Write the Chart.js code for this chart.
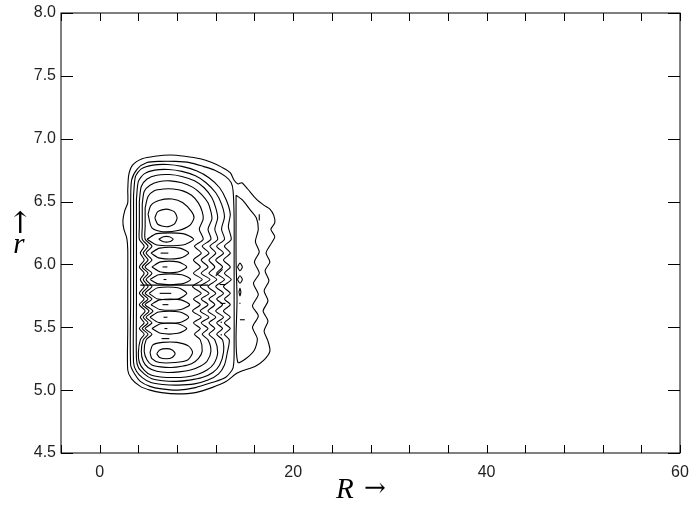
<!DOCTYPE html>
<html>
<head>
<meta charset="utf-8">
<script src="https://cdn.jsdelivr.net/npm/chart.js@4"></script>
<style>
  html, body { margin: 0; padding: 0; background: #fff; }
  #wrap { width: 693px; height: 508px; }
</style>
</head>
<body>
<div id="wrap"><canvas id="contourChart" width="693" height="508"></canvas></div>
<script>
// axis ticks
const xTickValues = [-4, 0, 4, 8, 12, 16, 20, 24, 28, 32, 36, 40, 44, 48, 52, 56, 60];
const xLabelValues = [0, 20, 40, 60];
const yTickValues = [4.5, 5.0, 5.5, 6.0, 6.5, 7.0, 7.5, 8.0];

// nested outer contours, [R, r]
const envelope1 = [[2.9,6.59],[3.0,6.71],[3.4,6.79],[4.4,6.84],[5.7,6.86],[7.3,6.87],[8.8,6.86],[10.4,6.84],[11.6,6.81],[12.7,6.77],[13.5,6.73],[13.9,6.67],[14.3,6.64],[14.7,6.65],[15.3,6.60],[16.2,6.52],[17.0,6.47],[17.6,6.44],[18.0,6.39],[18.1,6.33],[17.7,6.28],[18.1,6.22],[17.6,6.15],[17.2,6.09],[17.6,6.02],[17.1,5.95],[17.5,5.87],[17.0,5.79],[17.4,5.71],[16.9,5.63],[17.4,5.55],[17.0,5.47],[17.4,5.39],[17.6,5.31],[17.0,5.24],[16.1,5.19],[15.0,5.16],[14.1,5.13],[13.1,5.07],[11.6,5.02],[9.9,4.98],[8.1,4.97],[6.4,4.98],[5.2,5.0],[4.2,5.03],[3.3,5.09],[2.9,5.16],[2.9,5.48],[2.9,5.80],[2.9,6.12],[2.8,6.21],[2.5,6.28],[2.4,6.35],[2.6,6.43],[2.9,6.49]];
const envelope2 = [[3.2,6.51],[3.3,6.67],[3.9,6.76],[4.9,6.81],[6.2,6.82],[7.8,6.82],[9.3,6.81],[10.7,6.78],[11.9,6.75],[13.0,6.70],[13.6,6.65],[13.8,6.58],[13.9,6.36],[13.9,6.04],[13.9,5.72],[13.9,5.40],[13.8,5.18],[13.0,5.10],[11.6,5.06],[9.9,5.02],[8.1,5.00],[6.4,5.01],[5.2,5.03],[4.2,5.07],[3.6,5.13],[3.2,5.20],[3.2,5.72],[3.2,6.20]];
const envelope3 = [[3.5,6.55],[3.7,6.70],[4.3,6.76],[5.5,6.79],[7.0,6.795],[8.5,6.78],[10.0,6.745],[11.3,6.69],[12.4,6.61],[13.1,6.51],[13.5,6.40],[13.3,6.30],[13.6,6.20],[12.9,6.145],[13.5,6.09],[12.8,6.035],[13.5,5.98],[12.9,5.93],[13.6,5.88],[12.8,5.825],[13.5,5.77],[12.9,5.725],[13.5,5.68],[12.8,5.63],[13.5,5.58],[12.9,5.535],[13.5,5.49],[12.9,5.445],[13.4,5.40],[13.2,5.30],[12.9,5.20],[12.3,5.13],[11.2,5.08],[9.8,5.05],[8.1,5.04],[6.5,5.045],[5.3,5.06],[4.4,5.10],[3.8,5.15],[3.5,5.22],[3.5,5.70],[3.5,6.20]];
const envelope4 = [[3.8,6.52],[4.0,6.66],[4.6,6.72],[5.7,6.75],[7.1,6.755],[8.5,6.74],[9.9,6.705],[11.0,6.65],[12.0,6.57],[12.6,6.48],[12.9,6.38],[12.6,6.28],[12.9,6.20],[12.1,6.145],[12.8,6.09],[12.0,6.035],[12.7,5.98],[12.1,5.93],[12.9,5.88],[12.0,5.825],[12.8,5.77],[12.1,5.725],[12.7,5.68],[12.0,5.63],[12.8,5.58],[12.1,5.535],[12.7,5.49],[12.1,5.445],[12.7,5.40],[12.8,5.30],[12.4,5.20],[11.7,5.14],[10.6,5.10],[9.3,5.08],[7.9,5.07],[6.5,5.075],[5.4,5.09],[4.6,5.13],[4.0,5.18],[3.8,5.25],[3.8,5.70],[3.8,6.20]];
const envelope5 = [[4.1,6.50],[4.3,6.62],[4.9,6.68],[5.9,6.71],[7.2,6.715],[8.5,6.70],[9.8,6.665],[10.8,6.61],[11.6,6.53],[12.0,6.45],[12.2,6.37],[11.9,6.28],[12.2,6.20],[11.4,6.145],[12.0,6.09],[11.3,6.035],[11.9,5.98],[11.3,5.93],[12.1,5.88],[11.2,5.825],[12.0,5.77],[11.3,5.725],[11.9,5.68],[11.2,5.63],[12.0,5.58],[11.3,5.535],[11.9,5.49],[11.3,5.445],[11.9,5.40],[12.2,5.30],[11.8,5.21],[11.1,5.16],[10.1,5.125],[8.9,5.105],[7.6,5.10],[6.3,5.105],[5.3,5.12],[4.6,5.16],[4.1,5.22],[4.0,5.30],[4.2,5.40],[4.6,5.445],[4.1,5.49],[4.6,5.535],[4.2,5.58],[4.7,5.63],[4.1,5.68],[4.6,5.725],[4.1,5.77],[4.6,5.825],[4.2,5.88],[4.6,5.93],[4.1,5.98],[4.6,6.035],[4.2,6.09],[4.6,6.145],[4.1,6.20],[4.1,6.30]];
const envelope6 = [[4.4,6.48],[4.6,6.58],[5.2,6.63],[6.2,6.66],[7.3,6.665],[8.5,6.65],[9.6,6.615],[10.5,6.56],[11.2,6.49],[11.5,6.42],[11.6,6.36],[11.2,6.28],[11.5,6.20],[10.6,6.145],[11.3,6.09],[10.5,6.035],[11.2,5.98],[10.5,5.93],[11.4,5.88],[10.4,5.825],[11.3,5.77],[10.5,5.725],[11.2,5.68],[10.4,5.63],[11.3,5.58],[10.5,5.535],[11.2,5.49],[10.6,5.445],[11.2,5.40],[11.5,5.31],[11.1,5.23],[10.4,5.19],[9.4,5.16],[8.2,5.145],[7.0,5.14],[5.9,5.15],[5.0,5.18],[4.5,5.23],[4.3,5.31],[4.5,5.40],[5.0,5.445],[4.4,5.49],[5.0,5.535],[4.5,5.58],[5.1,5.63],[4.4,5.68],[5.0,5.725],[4.4,5.77],[5.0,5.825],[4.5,5.88],[5.0,5.93],[4.4,5.98],[5.0,6.035],[4.5,6.09],[5.0,6.145],[4.4,6.20],[4.4,6.30]];
const envelope7 = [[4.7,6.45],[5.0,6.54],[5.6,6.585],[6.6,6.60],[7.6,6.60],[8.6,6.585],[9.5,6.55],[10.2,6.49],[10.6,6.42],[10.7,6.36],[10.3,6.28],[10.7,6.20],[9.8,6.145],[10.5,6.09],[9.7,6.035],[10.4,5.98],[9.7,5.93],[10.6,5.88],[9.6,5.825],[10.5,5.77],[9.7,5.725],[10.4,5.68],[9.6,5.63],[10.5,5.58],[9.7,5.535],[10.4,5.49],[9.8,5.445],[10.4,5.40],[10.6,5.31],[10.2,5.25],[9.5,5.21],[8.5,5.19],[7.4,5.18],[6.3,5.185],[5.4,5.20],[4.9,5.24],[4.6,5.31],[4.8,5.40],[5.4,5.445],[4.7,5.49],[5.4,5.535],[4.8,5.58],[5.5,5.63],[4.7,5.68],[5.4,5.725],[4.7,5.77],[5.4,5.825],[4.8,5.88],[5.4,5.93],[4.7,5.98],[5.4,6.035],[4.8,6.09],[5.4,6.145],[4.7,6.20],[4.7,6.30]];

// right lobe
const lobeInner = [[14.1,6.55],[14.8,6.51],[15.5,6.44],[16.2,6.37],[16.4,6.28],[16.1,6.18],[16.5,6.10],[16.0,6.02],[16.5,5.93],[15.9,5.85],[16.4,5.76],[15.8,5.67],[16.4,5.59],[15.8,5.50],[16.3,5.41],[16.0,5.32],[15.1,5.25],[14.3,5.22],[14.1,5.40],[14.2,5.72],[14.1,6.04],[14.1,6.36]];
const lobeSpots = [
  [[14.25,5.98],[14.5,6.01],[14.75,5.98],[14.5,5.95]],
  [[14.25,5.88],[14.5,5.91],[14.75,5.88],[14.5,5.85]],
  [[14.4,5.78],[14.5,5.81],[14.6,5.78],[14.5,5.75]]
];

// peak rings
const upperRings = [
  [[5.0,6.40],[5.3,6.47],[6.2,6.51],[7.5,6.52],[8.6,6.49],[9.5,6.42],[9.75,6.37],[9.3,6.31],[8.1,6.27],[6.5,6.26],[5.4,6.29]],
  [[5.7,6.37],[6.0,6.42],[6.9,6.44],[7.7,6.42],[8.0,6.37],[7.7,6.32],[6.9,6.30],[6.0,6.32]]
];
const lowerRings = [
  [[5.2,5.30],[5.5,5.36],[6.5,5.38],[8.0,5.38],[9.2,5.35],[9.6,5.30],[9.1,5.24],[7.8,5.22],[6.2,5.22],[5.4,5.25]],
  [[5.9,5.29],[6.2,5.32],[6.9,5.33],[7.5,5.32],[7.8,5.29],[7.5,5.26],[6.9,5.25],[6.2,5.26]]
];

// stripes between the two peaks
const stripeEyes = [
  [[4.9,6.20],[5.9,6.245],[8.6,6.245],[9.7,6.20],[8.6,6.155],[5.9,6.155]],
  [[5.3,6.09],[6.2,6.13],[8.3,6.13],[9.2,6.09],[8.3,6.05],[6.2,6.05]],
  [[5.4,5.98],[6.3,6.02],[8.1,6.02],[9.0,5.98],[8.1,5.94],[6.3,5.94]],
  [[5.2,5.88],[6.1,5.918],[8.5,5.918],[9.4,5.88],[8.5,5.845],[6.1,5.845]],
  [[5.1,5.77],[6.0,5.815],[8.1,5.815],[9.0,5.77],[8.1,5.725],[6.0,5.725]],
  [[5.3,5.68],[6.2,5.718],[8.4,5.718],[9.3,5.68],[8.4,5.642],[6.2,5.642]],
  [[5.2,5.58],[6.1,5.622],[8.3,5.622],[9.2,5.58],[8.3,5.538],[6.1,5.538]],
  [[5.4,5.49],[6.3,5.528],[8.1,5.528],[9.0,5.49],[8.1,5.452],[6.3,5.452]],
  [[6.1,6.20],[6.6,6.22],[7.2,6.22],[7.6,6.20],[7.2,6.18],[6.6,6.18]]
];
const stripeDashes = [
  [[6.3,6.09],[7.1,6.09]], [[6.5,5.98],[7.0,5.98]], [[6.6,5.88],[6.9,5.88]],
  [[6.2,5.77],[7.4,5.77]], [[6.5,5.68],[7.1,5.68]], [[6.6,5.58],[7.0,5.58]],
  [[6.7,5.49],[7.0,5.49]], [[6.4,5.41],[7.2,5.41]],
  [[4.2,5.835],[11.2,5.835]],
  [[12.0,5.91],[12.7,5.96]], [[12.4,5.84],[13.0,5.84]], [[12.5,5.69],[13.0,5.69]],
  [[12.5,5.54],[12.65,5.54]], [[12.5,5.44],[12.65,5.44]],
  [[14.5,5.56],[15.0,5.56]], [[14.45,5.69],[14.55,5.69]], [[16.5,6.40],[16.5,6.35]]
];

const xTitle = 'R';
const yTitle = 'r';

document.addEventListener('DOMContentLoaded', function() {
    const closedPaths = [envelope1, envelope2, envelope3, envelope4, envelope5, envelope6, envelope7, lobeInner]
        .concat(lobeSpots, upperRings, lowerRings, stripeEyes);

    function toDataset(path, closed) {
        const pts = path.map(p => ({ x: p[0], y: p[1] }));
        if (closed) pts.push({ x: path[0][0], y: path[0][1] });
        return {
            data: pts,
            showLine: true,
            borderColor: '#000',
            borderWidth: 1.1,
            pointRadius: 0,
            tension: closed ? 0.25 : 0,
            fill: false
        };
    }

    const datasets = closedPaths.map(p => toDataset(p, true))
        .concat(stripeDashes.map(p => toDataset(p, false)));

    // frame, inward ticks on all four sides, axis titles
    const frameTicks = {
        id: 'frameTicks',
        afterDraw(chart) {
            const ctx = chart.ctx;
            const a = chart.chartArea;
            const xs = chart.scales.x;
            const ys = chart.scales.y;
            ctx.save();
            ctx.strokeStyle = '#000';
            ctx.lineWidth = 1;
            ctx.strokeRect(a.left, a.top, a.right - a.left, a.bottom - a.top);
            ctx.beginPath();
            xTickValues.forEach(v => {
                const px = Math.round(xs.getPixelForValue(v)) + 0.5;
                ctx.moveTo(px, a.bottom); ctx.lineTo(px, a.bottom - 8);
                ctx.moveTo(px, a.top); ctx.lineTo(px, a.top + 8);
            });
            yTickValues.forEach(v => {
                const py = Math.round(ys.getPixelForValue(v)) + 0.5;
                ctx.moveTo(a.left, py); ctx.lineTo(a.left + 12, py);
                ctx.moveTo(a.right, py); ctx.lineTo(a.right - 12, py);
            });
            ctx.stroke();

            ctx.fillStyle = '#000';
            ctx.textBaseline = 'alphabetic';
            ctx.textAlign = 'left';
            ctx.font = 'italic 29px "Liberation Serif"';
            ctx.fillText(xTitle, 336, 498);
            ctx.font = '26px "DejaVu Serif"';
            ctx.fillText('\u2192', 364, 496);

            ctx.textAlign = 'center';
            ctx.font = '30px "DejaVu Serif"';
            ctx.fillText('\u2191', 20, 233);
            ctx.font = 'italic 29px "Liberation Serif"';
            ctx.fillText(yTitle, 19, 253);
            ctx.restore();
        }
    };

    const ctx = document.getElementById('contourChart').getContext('2d');
    new Chart(ctx, {
        type: 'scatter',
        data: { datasets: datasets },
        options: {
            responsive: false,
            animation: false,
            devicePixelRatio: 1,
            layout: { padding: { top: 13, right: 13, left: 0, bottom: 0 } },
            plugins: { legend: { display: false }, tooltip: { enabled: false } },
            scales: {
                x: {
                    type: 'linear',
                    min: -4,
                    max: 60,
                    grid: { display: false, drawTicks: false },
                    border: { display: false },
                    afterBuildTicks: s => { s.ticks = xTickValues.map(v => ({ value: v })); },
                    afterFit: s => { s.height = 55; s.paddingLeft = 0; s.paddingRight = 0; },
                    ticks: {
                        padding: 10,
                        color: '#222',
                        font: { family: '"Liberation Sans"', size: 16 },
                        maxRotation: 0,
                        autoSkip: false,
                        callback: v => xLabelValues.includes(v) ? String(v) : ''
                    }
                },
                y: {
                    type: 'linear',
                    min: 4.5,
                    max: 8.0,
                    grid: { display: false, drawTicks: false },
                    border: { display: false },
                    afterBuildTicks: s => { s.ticks = yTickValues.map(v => ({ value: v })); },
                    afterFit: s => { s.width = 61; s.paddingTop = 0; s.paddingBottom = 0; },
                    ticks: {
                        padding: 5,
                        color: '#222',
                        font: { family: '"Liberation Sans"', size: 16 },
                        autoSkip: false,
                        callback: v => v.toFixed(1)
                    }
                }
            }
        },
        plugins: [frameTicks]
    });
});
</script>
</body>
</html>
